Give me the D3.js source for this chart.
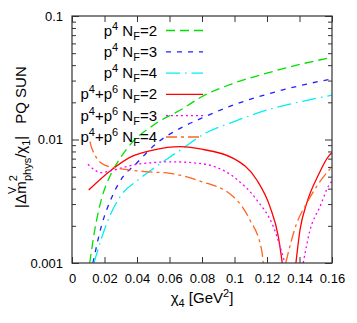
<!DOCTYPE html>
<meta charset="utf-8">
<head>
  <script src="https://d3js.org/d3.v7.min.js"></script>
  <style>
    body { margin: 0; background: #fff; }
    text { font-family: "Liberation Sans", Arial, sans-serif; fill: #000; }
  </style>
</head>
<body>
<svg width="357" height="323"></svg>
<script>
  // tick values and labels
  var xTicks = [0, 0.02, 0.04, 0.06, 0.08, 0.1, 0.12, 0.14, 0.16];
  var xTickLabels = ["0", "0.02", "0.04", "0.06", "0.08", "0.1", "0.12", "0.14", "0.16"];
  var yTicks = [0.001, 0.01, 0.1];
  var yTickLabels = ["0.001", "0.01", "0.1"];

  // p4 curves
  var p4nf2X = [0.0109, 0.014, 0.018, 0.0242, 0.0303, 0.0365, 0.0502, 0.0685, 0.0798, 0.0993, 0.1198, 0.1403, 0.16];
  var p4nf2Y = [0.001, 0.00185, 0.00324, 0.00532, 0.00726, 0.0093, 0.0131, 0.0179, 0.0222, 0.0285, 0.0344, 0.0406, 0.0462];
  var p4nf3X = [0.0129, 0.018, 0.0242, 0.0314, 0.0386, 0.052, 0.0685, 0.0798, 0.0993, 0.1198, 0.1403, 0.16];
  var p4nf3Y = [0.001, 0.00197, 0.00334, 0.005, 0.00622, 0.0093, 0.0127, 0.0149, 0.019, 0.0232, 0.0273, 0.031];
  var p4nf4X = [0.0135, 0.0222, 0.0303, 0.0406, 0.0488, 0.0665, 0.0829, 0.0993, 0.1198, 0.1403, 0.16];
  var p4nf4Y = [0.001, 0.00223, 0.00355, 0.0047, 0.00566, 0.0082, 0.0114, 0.0139, 0.0173, 0.0202, 0.0229];

  // p4+p6 curves (null = sign change, curve goes through zero)
  var p46nf2X = [0.0103, 0.0242, 0.0365, 0.0498, 0.0665, 0.0788, 0.0993, 0.1137, 0.1218, 0.127, 0.1294, 0.133, 0.1378, 0.1403, 0.1444, 0.1516, 0.1582, 0.16];
  var p46nf2Y = [0.0039, 0.00566, 0.00726, 0.0082, 0.00874, 0.00838, 0.00704, 0.0047, 0.00286, 0.00163, 0.001, null, 0.001, 0.00185, 0.00304, 0.00516, 0.0074, 0.0078];
  var p46nf3X = [0.0098, 0.018, 0.0242, 0.0398, 0.0498, 0.0603, 0.0788, 0.0993, 0.1137, 0.1239, 0.131, 0.137, 0.1423, 0.1465, 0.1526, 0.1582, 0.16];
  var p46nf3Y = [0.0063, 0.0054, 0.0056, 0.0063, 0.0065, 0.0066, 0.0064, 0.005, 0.00324, 0.00197, 0.001, null, 0.001, 0.00185, 0.00286, 0.00428, 0.0046];
  var p46nf4X = [0.0111, 0.0119, 0.0201, 0.0283, 0.0447, 0.0603, 0.0788, 0.0993, 0.1095, 0.1167, 0.1177, 0.125, 0.1315, 0.1383, 0.1444, 0.1582, 0.16];
  var p46nf4Y = [0.0096, 0.0087, 0.0062, 0.00585, 0.0055, 0.00532, 0.00461, 0.00344, 0.00223, 0.00127, 0.001, null, 0.001, 0.0021, 0.00304, 0.00566, 0.006];

  var series = [
    { x: p4nf2X, y: p4nf2Y, color: "#00e000", dash: "9,5", lab: [["p"], ["4", "sup"], [" N"], ["F", "sub"], ["=2"]] },
    { x: p4nf3X, y: p4nf3Y, color: "#2020ff", dash: "5,6", lab: [["p"], ["4", "sup"], [" N"], ["F", "sub"], ["=3"]] },
    { x: p4nf4X, y: p4nf4Y, color: "#00f0f0", dash: "14,5,1.5,5", lab: [["p"], ["4", "sup"], [" N"], ["F", "sub"], ["=4"]] },
    { x: p46nf2X, y: p46nf2Y, color: "#ff0000", dash: null, lab: [["p"], ["4", "sup"], ["+p"], ["6", "sup"], [" N"], ["F", "sub"], ["=2"]] },
    { x: p46nf3X, y: p46nf3Y, color: "#ff00ff", dash: "2,3", lab: [["p"], ["4", "sup"], ["+p"], ["6", "sup"], [" N"], ["F", "sub"], ["=3"]] },
    { x: p46nf4X, y: p46nf4Y, color: "#ff6420", dash: "11,4,3,4", lab: [["p"], ["4", "sup"], ["+p"], ["6", "sup"], [" N"], ["F", "sub"], ["=4"]] }
  ];

  var svg = d3.select("svg");
  var mLeft = 72, mRight = 332, mTop = 16, mBottom = 263;

  var x = d3.scaleLinear().domain([0, 0.16]).range([mLeft, mRight]);
  var y = d3.scaleLog().domain([0.001, 0.1]).range([mBottom, mTop]);

  svg.append("clipPath").attr("id", "clip")
    .append("rect").attr("x", mLeft).attr("y", mTop).attr("width", mRight - mLeft).attr("height", mBottom - mTop);

  // minor log ticks
  var yMinor = [];
  [0.001, 0.01].forEach(function (d) { for (var k = 2; k <= 9; k++) yMinor.push(d * k); });

  function styleAxis(g) {
    g.select(".domain").remove();
    g.selectAll(".tick line").attr("stroke", "#333");
    g.selectAll("text").attr("font-size", 13).attr("font-family", "Liberation Sans, Arial, sans-serif");
  }

  svg.append("g").attr("transform", "translate(0," + mBottom + ")")
    .call(d3.axisBottom(x).tickValues(xTicks).tickSize(-6).tickPadding(11)
      .tickFormat(function (d, i) { return xTickLabels[i]; }))
    .call(styleAxis);
  svg.append("g").attr("transform", "translate(0," + mTop + ")")
    .call(d3.axisTop(x).tickValues(xTicks).tickSize(-6).tickFormat(""))
    .call(styleAxis);
  svg.append("g").attr("transform", "translate(" + mLeft + ",0)")
    .call(d3.axisLeft(y).tickValues(yTicks).tickSize(-7).tickPadding(9)
      .tickFormat(function (d, i) { return yTickLabels[i]; }))
    .call(styleAxis);
  svg.append("g").attr("transform", "translate(" + mLeft + ",0)")
    .call(d3.axisLeft(y).tickValues(yMinor).tickSize(-4).tickFormat(""))
    .call(styleAxis);
  svg.append("g").attr("transform", "translate(" + mRight + ",0)")
    .call(d3.axisRight(y).tickValues(yTicks).tickSize(-7).tickFormat(""))
    .call(styleAxis);
  svg.append("g").attr("transform", "translate(" + mRight + ",0)")
    .call(d3.axisRight(y).tickValues(yMinor).tickSize(-4).tickFormat(""))
    .call(styleAxis);

  // curves
  var line = d3.line()
    .defined(function (d) { return d[1] != null; })
    .x(function (d) { return x(d[0]); })
    .y(function (d) { return y(d[1]); })
    .curve(d3.curveMonotoneX);

  var plot = svg.append("g").attr("clip-path", "url(#clip)");
  series.forEach(function (s) {
    var pts = s.x.map(function (v, i) { return [v, s.y[i]]; });
    plot.append("path")
      .attr("d", line(pts))
      .attr("fill", "none")
      .attr("stroke", s.color)
      .attr("stroke-width", 1.3)
      .attr("stroke-dasharray", s.dash);
  });

  // legend
  function richText(t, parts, big, small) {
    var shift = 0;
    parts.forEach(function (p) {
      var target = p[1] == "sup" ? -6 : p[1] == "sub" ? 4 : 0;
      t.append("tspan")
        .attr("dy", target - shift)
        .attr("font-size", p[1] ? small : big)
        .text(p[0]);
      shift = target;
    });
  }

  var leg = svg.append("g");
  series.forEach(function (s, i) {
    var ly = 30.5 + i * 21.3;
    leg.append("line")
      .attr("x1", 166).attr("x2", 203).attr("y1", ly).attr("y2", ly)
      .attr("stroke", s.color).attr("stroke-width", 1.3)
      .attr("stroke-dasharray", s.dash);
    var t = leg.append("text").attr("x", 157).attr("y", ly + 5)
      .attr("text-anchor", "end");
    richText(t, s.lab, 15, 11);
  });

  // x title
  var xt = svg.append("text").attr("x", 202).attr("y", 303).attr("text-anchor", "middle");
  richText(xt, [["χ"], ["4", "sub"], [" [GeV"], ["2", "sup"], ["]"]], 15, 11);

  // y title
  var yt = svg.append("text").attr("transform", "translate(26,208) rotate(-90)");
  yt.append("tspan").attr("font-size", 15).text("|Δ");
  yt.append("tspan").attr("font-size", 11).attr("dy", -10).text("V");
  yt.append("tspan").attr("font-size", 15).attr("dx", -7).attr("dy", 10).text("m");
  yt.append("tspan").attr("font-size", 11).attr("dy", -9).text("2");
  yt.append("tspan").attr("font-size", 11).attr("dx", -6).attr("dy", 14).text("phys");
  yt.append("tspan").attr("font-size", 15).attr("dy", -5).text("/χ");
  yt.append("tspan").attr("font-size", 11).attr("dy", 4).text("1");
  yt.append("tspan").attr("font-size", 15).attr("dy", -4).text("|");
  yt.append("tspan").attr("font-size", 15).attr("dx", 12).text("PQ SUN");

  // frame
  svg.append("rect")
    .attr("x", mLeft).attr("y", mTop).attr("width", mRight - mLeft).attr("height", mBottom - mTop)
    .attr("fill", "none").attr("stroke", "#333").attr("stroke-width", 1.2);
</script>
</body>
